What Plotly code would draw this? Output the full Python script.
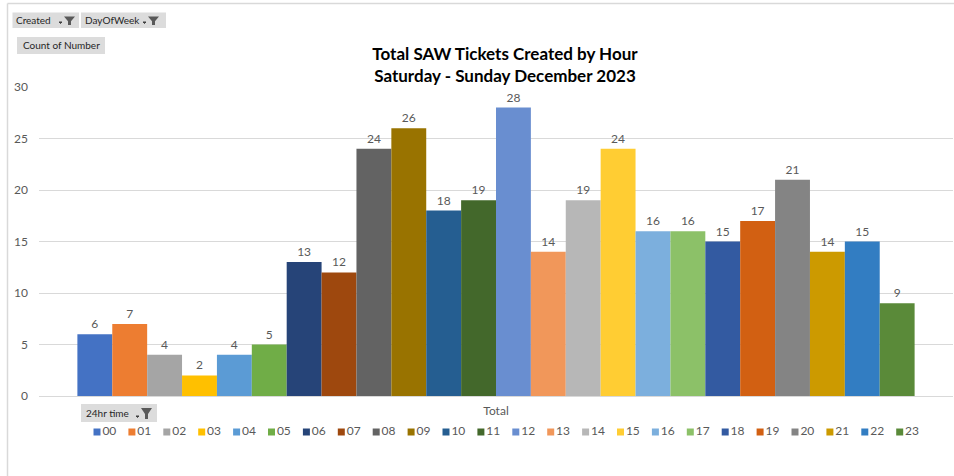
import plotly.graph_objects as go

# ---- data ----
hours = ["00", "01", "02", "03", "04", "05", "06", "07", "08", "09", "10", "11",
         "12", "13", "14", "15", "16", "17", "18", "19", "20", "21", "22", "23"]
counts = [6, 7, 4, 2, 4, 5, 13, 12, 24, 26, 18, 19,
          28, 14, 19, 24, 16, 16, 15, 17, 21, 14, 15, 9]
colors = ["#4472C4", "#ED7D31", "#A5A5A5", "#FFC000", "#5B9BD5", "#70AD47",
          "#264478", "#9E480E", "#636363", "#997300", "#255E91", "#43682B",
          "#698ED0", "#F1975A", "#B7B7B7", "#FFCD33", "#7CAFDD", "#8CC168",
          "#335AA1", "#D26012", "#848484", "#CC9A00", "#327DC2", "#5A8A39"]
category = ["Total"]
y_ticks = [0, 5, 10, 15, 20, 25, 30]

W, H = 954, 476
ML, MR, MT, MB = 39, 1, 87, 26
PW, PH = W - ML - MR, H - MT - MB
FONT = "Lato"
GRAY = "#595959"


def px(x):
    return (x - ML) / PW


def py(y):
    return (H - MB - y) / PH


main_bottom = py(396)

fig = go.Figure()
for h, v, c in zip(hours, counts, colors):
    fig.add_trace(go.Bar(
        x=category, y=[v], name=h, marker=dict(color=c, line=dict(width=0)),
        text=[v], textposition="outside", cliponaxis=False,
        textfont=dict(family=FONT, size=12, color=GRAY),
        xaxis="x", yaxis="y", showlegend=False,
    ))

# legend row drawn as a scatter on an auxiliary axis
fig.add_trace(go.Scatter(
    x=list(range(len(hours))), y=[0] * len(hours), mode="markers+text",
    marker=dict(symbol="square", size=7, color=colors),
    text=hours, textposition="middle right",
    textfont=dict(family=FONT, size=12, color=GRAY),
    xaxis="x2", yaxis="y2", showlegend=False, hoverinfo="skip", cliponaxis=False,
))

step = 34.9
x0 = 97
lo = -(x0 - ML) / step
hi = lo + PW / step
leg_top = py(414)

shapes = []
annotations = []

# chart border (top and left)
shapes.append(dict(type="line", xref="paper", yref="paper", x0=px(7.5), x1=px(W), y0=py(3.5), y1=py(3.5),
                   line=dict(color="#d9d9d9", width=1.5)))
shapes.append(dict(type="line", xref="paper", yref="paper", x0=px(7.5), x1=px(7.5), y0=py(3.5), y1=py(H),
                   line=dict(color="#d9d9d9", width=1.5)))


def button(x0b, x1b, y0b, y1b, label, tx, funnel_x=None, fsize=10):
    shapes.append(dict(type="rect", xref="paper", yref="paper", x0=px(x0b), x1=px(x1b), y0=py(y1b), y1=py(y0b),
                       fillcolor="#dcdcdc", line=dict(width=0), layer="above"))
    annotations.append(dict(xref="paper", yref="paper", x=px(tx), y=py((y0b + y1b) / 2), text=label,
                            showarrow=False, xanchor="left", yanchor="middle",
                            font=dict(family=FONT, size=fsize, color="#262626")))
    if funnel_x is not None:
        fx = funnel_x
        top, bot = y0b + 4, y1b - 3
        mid = (top + bot) / 2 + 0.5
        path = (f"M {px(fx)},{py(top)} L {px(fx + 11)},{py(top)} L {px(fx + 7)},{py(mid)} "
                f"L {px(fx + 7)},{py(bot)} L {px(fx + 4)},{py(bot)} L {px(fx + 4)},{py(mid)} Z")
        shapes.append(dict(type="path", xref="paper", yref="paper", path=path,
                           fillcolor="#595959", line=dict(width=0), layer="above"))
        ap = (f"M {px(fx - 5)},{py(bot - 3)} L {px(fx - 2)},{py(bot - 3)} L {px(fx - 3.5)},{py(bot - 1.5)} Z")
        shapes.append(dict(type="path", xref="paper", yref="paper", path=ap,
                           fillcolor="#404040", line=dict(color="#404040", width=1), layer="above"))


button(12.5, 79, 12.5, 28, "Created", 14, 64)
button(81, 166, 12.5, 28, "DayOfWeek", 83, 148)
button(17, 105, 37, 54, "Count of Number", 21)
button(81, 157, 404, 422, "24hr time", 84, 141)

fig.update_layout(
    width=W, height=H,
    margin=dict(l=ML, r=MR, t=MT, b=MB),
    paper_bgcolor="white", plot_bgcolor="white",
    barmode="group", bargap=0.084, bargroupgap=0,
    title=dict(text="<b>Total SAW Tickets Created by Hour<br>Saturday - Sunday December 2023</b>",
               x=505 / W, xanchor="center", xref="container",
               y=1 - 60 / H, yanchor="middle", yref="container",
               font=dict(family=FONT, size=17, color="#000000")),
    font=dict(family=FONT, size=12, color=GRAY),
    xaxis=dict(domain=[0, 1], anchor="y", type="category", showgrid=False, showline=False,
               zeroline=False, ticks="", ticklabelstandoff=6,
               tickfont=dict(family=FONT, size=12, color=GRAY)),
    yaxis=dict(domain=[main_bottom, 1], anchor="x", range=[0, 30], tickvals=y_ticks,
               showgrid=True, gridcolor="#d9d9d9", gridwidth=1, zeroline=True,
               zerolinecolor="#d9d9d9", zerolinewidth=1, showline=False, ticks="",
               ticklabelstandoff=10, tickfont=dict(family=FONT, size=12, color=GRAY)),
    xaxis2=dict(domain=[0, 1], anchor="y2", range=[lo, hi], visible=False),
    yaxis2=dict(domain=[0, leg_top], anchor="x2", range=[-1, 1], visible=False),
    shapes=shapes, annotations=annotations,
    showlegend=False,
)

fig.write_html("out.html", config={"displayModeBar": False},
               post_script="document.body.style.margin='0';")
